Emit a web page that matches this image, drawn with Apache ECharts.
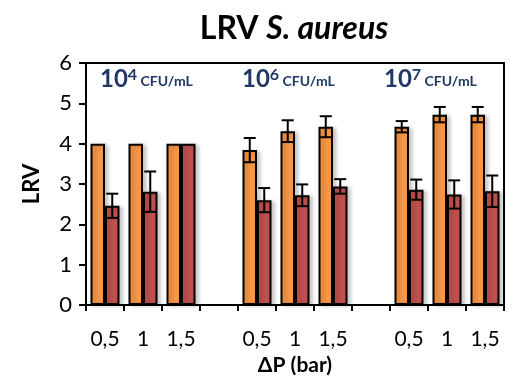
<!DOCTYPE html>
<html><head><meta charset="utf-8">
<script src="https://cdn.jsdelivr.net/npm/echarts@6/dist/echarts.min.js"></script>
<style>html,body{margin:0;padding:0;background:#fff}#c{width:510px;height:381px}</style>
</head><body><div id="c"></div>
<script>
const categories = ['0,5','1','1,5','','0,5','1','1,5','','0,5','1','1,5'];
const orangeValues = [4, 4, 4, null, 3.84, 4.31, 4.42, null, 4.42, 4.72, 4.72];
const orangeErrors = [0, 0, 0, null, 0.3, 0.27, 0.26, null, 0.14, 0.19, 0.19];
const redValues = [2.46, 2.81, 4, null, 2.6, 2.72, 2.94, null, 2.86, 2.74, 2.82];
const redErrors = [0.3, 0.5, 0, null, 0.3, 0.27, 0.18, null, 0.25, 0.35, 0.39];
const yTicks = [0, 1, 2, 3, 4, 5, 6];
const groupLabels = [['10', '4'], ['10', '6'], ['10', '7']];

const FONT = 'Lato, "Open Sans", sans-serif';
const BAR_W = 14.5;
const chart = echarts.init(document.getElementById('c'));

function errSeries(values, errs, offsetSign) {
  const data = values.map((v, i) => (v == null || !errs[i]) ? null : [i, v, errs[i]]).filter(d => d);
  return {
    type: 'custom', z: 5,
    data: data,
    renderItem: function (params, api) {
      const i = api.value(0), v = api.value(1), e = api.value(2);
      const c = api.coord([i, v]);
      const x = c[0] + offsetSign * BAR_W / 2;
      const yt = api.coord([i, v + e])[1];
      const yb = api.coord([i, v - e])[1];
      const hw = 6;
      const st = { stroke: '#000', lineWidth: 2 };
      return { type: 'group', children: [
        { type: 'line', shape: { x1: x, y1: yt, x2: x, y2: yb }, style: st },
        { type: 'line', shape: { x1: x - hw, y1: yt, x2: x + hw, y2: yt }, style: st },
        { type: 'line', shape: { x1: x - hw, y1: yb, x2: x + hw, y2: yb }, style: st }
      ]};
    }
  };
}

const labelX = [100, 242, 384];
const graphics = groupLabels.map((g, k) => ({
  type: 'text', left: labelX[k], top: 67, z: 10,
  style: {
    text: '{a|' + g[0] + '}{s|' + g[1] + '}{b| CFU/mL}',
    rich: {
      a: { fontFamily: FONT, fontWeight: 'bold', fontSize: 24, fill: '#1F3864', color: '#1F3864', verticalAlign: 'bottom' },
      s: { fontFamily: FONT, fontWeight: 'bold', fontSize: 16, fill: '#1F3864', color: '#1F3864', verticalAlign: 'top' },
      b: { fontFamily: FONT, fontWeight: 'bold', fontSize: 14, fill: '#1F3864', color: '#1F3864', verticalAlign: 'bottom', padding: [0, 0, 3, 0] }
    }
  }
}));

const shadow = { shadowColor: 'rgba(0,0,0,0.22)', shadowBlur: 4, shadowOffsetX: 3, shadowOffsetY: 1 };

chart.setOption({
  animation: false,
  title: {
    text: '{n|LRV }{i|S. aureus}', left: 289, top: 8, textAlign: 'center',
    textStyle: { rich: {
      n: { fontFamily: FONT, fontWeight: 'bold', fontSize: 32, color: '#000' },
      i: { fontFamily: FONT, fontWeight: 'bold', fontStyle: 'italic', fontSize: 32, color: '#000' }
    } }
  },
  grid: { left: 86, right: 6, top: 63, bottom: 72, show: true, borderColor: '#000', borderWidth: 2, containLabel: false },
  xAxis: {
    type: 'category', data: categories,
    name: 'ΔP (bar)', nameLocation: 'middle', nameGap: 50,
    nameTextStyle: { fontFamily: FONT, fontWeight: 'bold', fontSize: 21, color: '#000' },
    axisLine: { lineStyle: { color: '#000', width: 2 } },
    axisTick: { show: true, alignWithLabel: false, length: 6, lineStyle: { color: '#000', width: 2 } },
    axisLabel: { interval: 0, margin: 24, fontFamily: FONT, fontSize: 21, color: '#000' }
  },
  yAxis: {
    type: 'value', min: 0, max: 6, interval: 1,
    name: 'LRV', nameLocation: 'middle', nameGap: 43, nameRotate: 90,
    nameTextStyle: { fontFamily: FONT, fontWeight: 'bold', fontSize: 22, color: '#000' },
    axisLine: { show: true, lineStyle: { color: '#000', width: 2 } },
    axisTick: { show: true, length: 7, lineStyle: { color: '#000', width: 2 } },
    splitLine: { show: false },
    axisLabel: { margin: 14, fontFamily: FONT, fontSize: 22, color: '#000', formatter: v => yTicks.includes(v) ? String(v) : '' }
  },
  series: [
    { type: 'bar', data: orangeValues, barWidth: BAR_W, barGap: '0%',
      itemStyle: Object.assign({ color: '#F79646', borderColor: '#000', borderWidth: 2 }, shadow) },
    { type: 'bar', data: redValues, barWidth: BAR_W, barGap: '0%',
      itemStyle: Object.assign({ color: '#C0504D', borderColor: '#000', borderWidth: 2 }, shadow) },
    errSeries(orangeValues, orangeErrors, -1),
    errSeries(redValues, redErrors, 1)
  ],
  graphic: graphics
});
</script></body></html>
